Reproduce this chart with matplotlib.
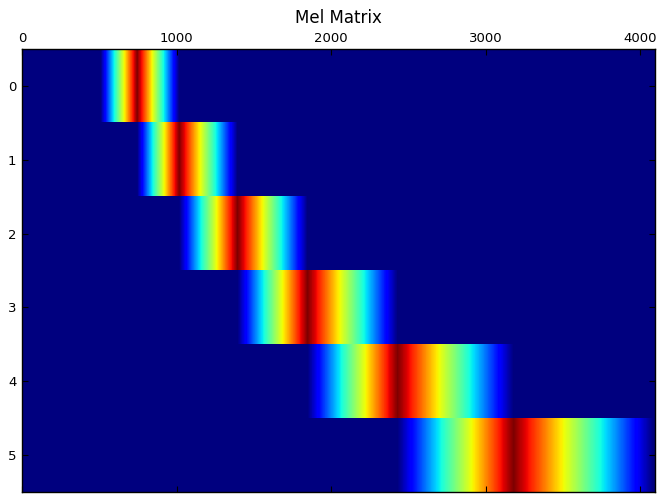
import numpy as np
import matplotlib.pyplot as plt

# mel filter edge bins (start/peak/end points shared between neighbours)
edges = [509, 745, 1017, 1395, 1848, 2430, 3180, 4085]
n_bins = 4097
n_filters = 6

bins = np.arange(n_bins)
mel = np.zeros((n_filters, n_bins))
for i in range(n_filters):
    lo, c, hi = edges[i], edges[i + 1], edges[i + 2]
    up = (bins - lo) / (c - lo)
    down = (hi - bins) / (hi - c)
    mel[i] = np.clip(np.minimum(up, down), 0, None)

fig = plt.figure(figsize=(6.57, 4.94), dpi=100)
ax = fig.add_axes([22 / 657, 2 / 494, 633 / 657, 443 / 494])
ax.matshow(mel, cmap='jet', aspect='auto')
ax.set_title('Mel Matrix', fontsize=12, pad=6)
ax.set_xticks([0, 1000, 2000, 3000, 4000])
ax.set_yticks(range(n_filters))
ax.tick_params(direction='in', length=4, labelsize=9.5, top=True, bottom=True,
               left=True, right=True, labeltop=True, labelbottom=False, pad=3)
ax.tick_params(axis='y', pad=4)
for s in ax.spines.values():
    s.set_linewidth(1.0)

fig.savefig('out.png', dpi=100)
